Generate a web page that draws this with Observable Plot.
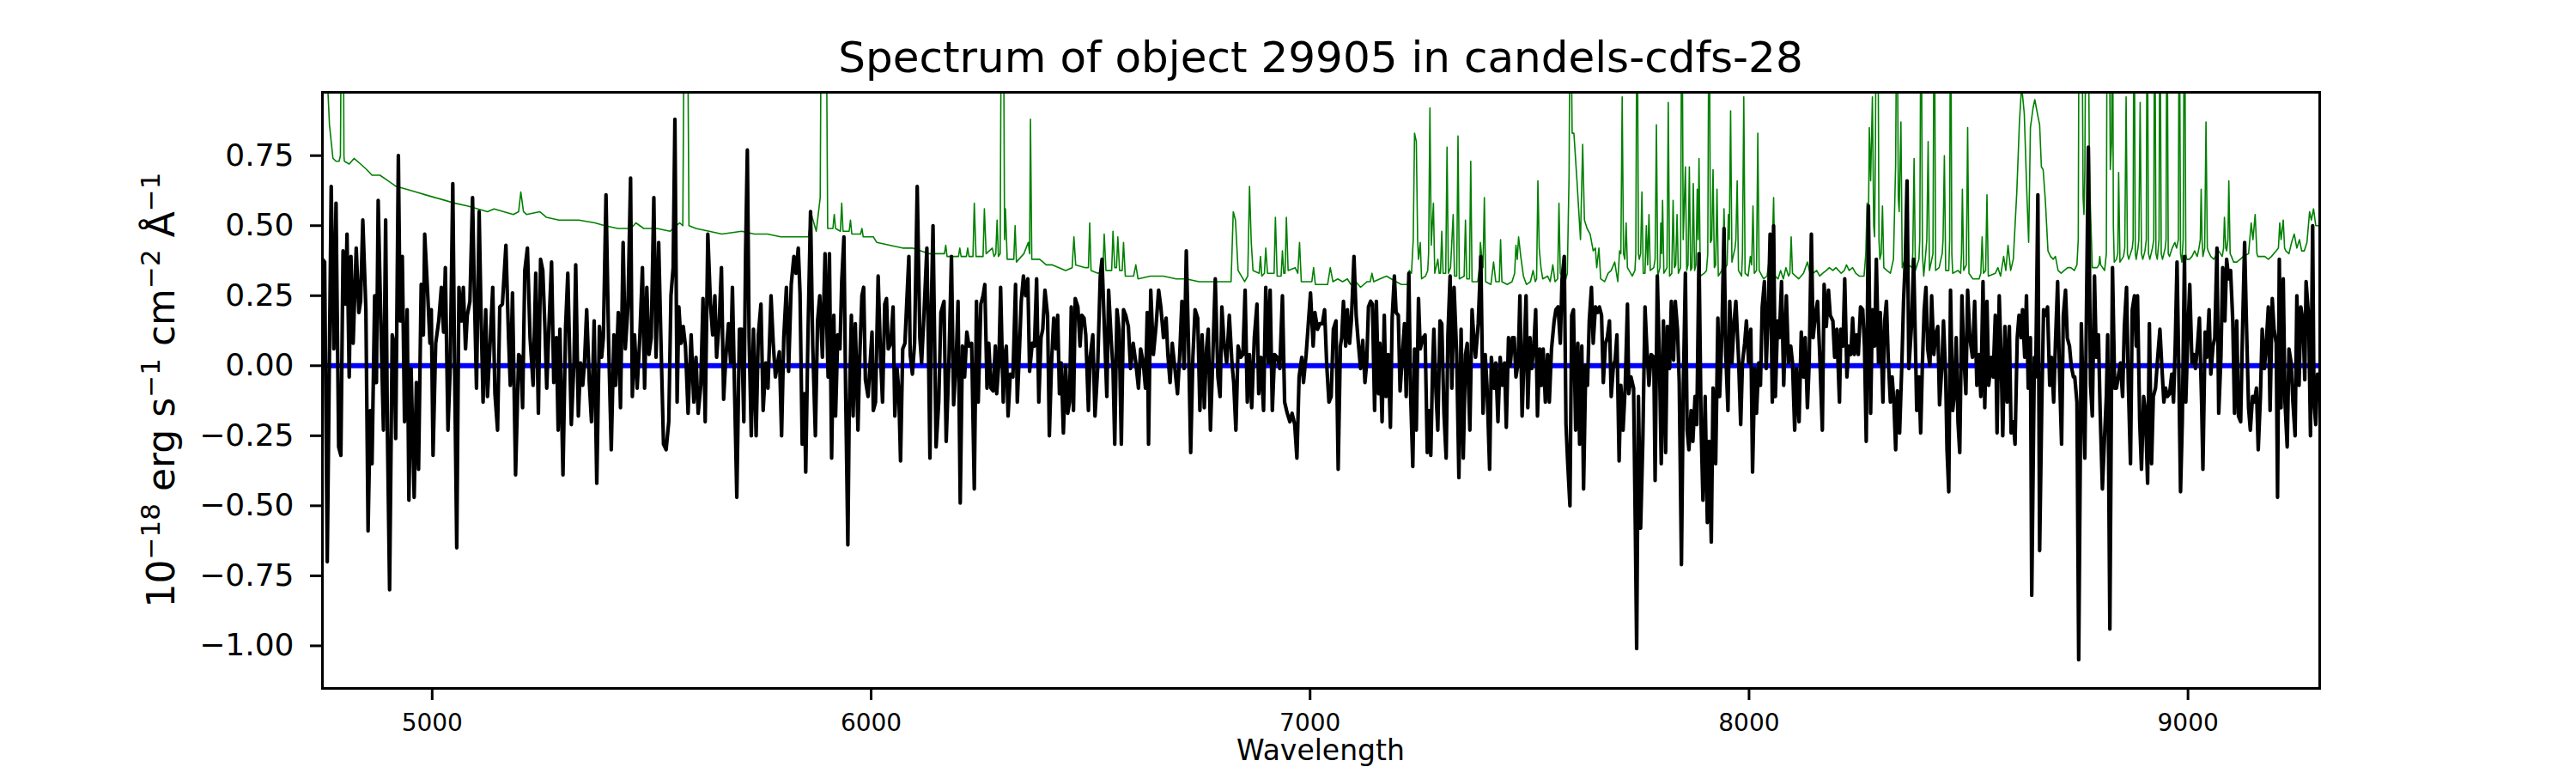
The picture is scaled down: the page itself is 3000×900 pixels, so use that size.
<!DOCTYPE html>
<html>
<head>
<meta charset="utf-8">
<script src="https://cdn.jsdelivr.net/npm/d3@7"></script>
<script src="https://cdn.jsdelivr.net/npm/@observablehq/plot@0.6"></script>
<style>
  html, body { margin: 0; padding: 0; background: #ffffff; }
  #chart svg { display: block; }
  g[aria-label="x-axis tick label"] { font-size: 28px; }
  g[aria-label="y-axis tick label"] { font-size: 36px; }
</style>
</head>
<body>
<div id="chart"></div>
<script>
const titleText = "Spectrum of object 29905 in candels-cdfs-28";
const xLabelText = "Wavelength";
const xTicks = [5000, 6000, 7000, 8000, 9000];
const yTicks = [-1.0, -0.75, -0.5, -0.25, 0.0, 0.25, 0.5, 0.75];
const xDomain = [4750, 9300];
const yDomain = [-1.152, 0.976];

// observed flux (black), [wavelength, flux]
const black1 = [
[4750,0.38],[4755,0.37],[4761,-0.70],[4770,0.64],[4776,0.06],[4781,0.58],[4787,-0.29],[4792,-0.32],[4797,0.41],[4803,0.22],[4806,0.47],[4811,-0.04],[4815,0.39],[4820,0.08],[4827,0.42],[4833,0.19],[4837,0.23],[4842,0.52],[4849,0.20],[4854,-0.59],[4859,-0.16],[4863,-0.35],[4869,0.25],[4873,-0.06],[4877,0.59],[4883,0.16],[4889,-0.23],[4894,0.52],[4898,-0.23],[4903,-0.80],[4909,0.11],[4913,0.08],[4917,-0.26],[4923,0.75],[4927,0.16],[4932,0.39],[4937,-0.20],[4943,0.20],[4947,-0.48],[4952,-0.01],[4959,-0.47],[4964,-0.06],[4969,-0.37],[4975,0.29],[4980,0.11],[4983,0.47],[4990,0.25],[4995,0.08],[4998,0.20],[5002,-0.32],[5008,0.08],[5015,0.16],[5021,0.28],[5026,0.12],[5030,0.35],[5036,-0.23],[5041,-0.01],[5047,0.65],[5051,0.01],[5056,-0.65],[5061,0.28],[5067,0.16],[5071,0.28],[5076,0.06],[5080,0.18],[5086,0.23],[5092,0.60],[5096,0.27],[5101,-0.08],[5107,0.55],[5111,0.21],[5116,-0.13],[5122,0.20],[5126,-0.11],[5132,0.08],[5138,0.28],[5143,-0.10],[5149,-0.23],[5154,0.21],[5160,0.22],[5168,0.43],[5174,0.10],[5178,-0.07],[5183,0.26],[5190,-0.39],[5197,0.04],[5202,0.03],[5206,-0.15],[5211,0.34],[5217,0.42],[5223,0.10],[5230,-0.07],[5236,0.33],[5242,-0.17],[5247,0.38],[5252,0.34],[5257,0.13],[5261,-0.08],[5266,0.14],[5272,0.37],[5277,-0.06],[5283,0.10],[5287,-0.23],[5291,0.13],[5298,-0.39],[5304,0.14],[5309,0.33],[5317,-0.21],[5323,0.01],[5327,0.36],[5333,-0.18],[5338,0.01],[5343,-0.07],[5347,0.01],[5352,0.20],[5358,-0.06],[5363,-0.20],[5369,0.16],[5375,-0.42],[5381,0.14],[5386,0.03],[5390,0.10],[5396,0.61],[5402,0.08],[5408,-0.30],[5414,0.11],[5418,-0.07],[5424,0.19],[5429,-0.15],[5435,0.44],[5440,0.06],[5446,0.21],[5452,0.67],[5456,-0.11],[5461,0.11],[5467,-0.08],[5473,0.10],[5479,0.35],[5484,-0.08],[5489,0.28],[5494,0.04],[5499,0.10],[5505,0.60],[5510,0.03],[5516,0.44],[5521,0.10],[5527,-0.28],[5533,-0.30],[5539,-0.20],[5544,0.25],[5549,0.35],[5553,0.88],[5558,-0.13],[5562,0.21],[5567,0.08],[5572,0.14],[5577,0.07],[5583,-0.17],[5590,0.11],[5596,-0.13],[5601,0.03],[5606,-0.17],[5612,-0.07],[5617,0.24],[5622,-0.20],[5628,0.47],[5634,0.22],[5639,0.11],[5644,0.25],[5648,0.03],[5654,0.16],[5659,0.35],[5664,-0.12],[5669,0.03],[5675,0.15],[5680,0.01],[5684,0.28],[5688,-0.02],[5694,-0.47],[5700,0.13],[5705,0.13],[5710,-0.20],[5714,0.40],[5718,0.77],[5722,0.10],[5727,-0.25],[5732,0.13],[5738,-0.25],[5743,0.11],[5749,0.22],[5754,-0.16],[5760,0.01],[5765,-0.08],[5772,0.25],[5777,0.08],[5782,-0.04],[5786,0.00],[5791,0.05],[5796,-0.25],[5801,0.10],[5807,0.28],[5812,-0.02],[5818,0.29],[5824,0.39],[5829,0.33],[5834,0.42],[5838,0.26],[5843,-0.28],[5848,-0.10],[5851,-0.38],[5856,0.10],[5862,0.55],[5867,0.07],[5873,-0.25],[5878,0.16],[5883,0.25],[5889,0.03],[5895,0.40],[5902,-0.04]
];
const black2 = [
[5905,0.40],[5910,-0.33],[5915,0.18],[5919,-0.18],[5924,0.11],[5929,0.06],[5933,0.30],[5938,0.46],[5942,-0.10],[5947,-0.64],[5950,-0.17],[5955,0.18],[5959,-0.18],[5964,0.15],[5970,-0.23],[5974,0.03],[5979,0.25],[5983,0.28],[5987,-0.05],[5993,-0.11],[5997,-0.01],[6002,0.12],[6005,-0.16],[6010,-0.13],[6016,0.32],[6022,0.01],[6026,-0.13],[6031,0.22],[6035,0.24],[6039,0.06],[6045,0.08],[6050,0.21],[6054,-0.18],[6059,-0.01],[6063,-0.09],[6067,-0.34],[6072,0.06],[6077,0.08],[6081,0.22],[6086,0.39],[6089,0.04],[6094,-0.03],[6099,0.08],[6105,0.64],[6111,0.10],[6115,0.01],[6120,0.17],[6127,0.42],[6131,0.01],[6134,-0.33],[6137,0.20],[6141,0.50],[6148,-0.29],[6154,-0.13],[6159,0.19],[6166,0.23],[6171,-0.27],[6177,0.00],[6183,0.39],[6188,-0.14],[6194,0.03],[6198,0.23],[6203,-0.49],[6208,0.07],[6213,-0.04],[6218,0.12],[6223,0.07],[6229,0.08],[6235,-0.44],[6240,0.23],[6244,-0.13],[6250,0.22],[6255,0.25],[6259,0.29],[6264,-0.08],[6268,0.08],[6273,-0.08],[6278,-0.09],[6283,0.07],[6286,-0.10],[6291,0.01],[6295,0.28],[6301,-0.13],[6304,0.03],[6308,0.07],[6312,-0.18],[6317,-0.03],[6323,-0.04],[6329,0.29],[6333,-0.13],[6338,0.06],[6342,0.23],[6347,0.32],[6352,0.25],[6357,0.31],[6361,-0.02],[6367,0.08],[6372,0.07],[6377,0.31],[6382,-0.13],[6387,0.10],[6391,0.13],[6396,0.27],[6402,0.18],[6406,-0.25],[6411,0.01],[6416,0.17],[6421,0.06],[6425,0.18],[6429,-0.10],[6433,0.01],[6438,-0.24],[6443,0.00],[6448,-0.17],[6452,-0.13],[6456,0.21],[6461,-0.16],[6465,0.24],[6471,0.21],[6476,0.07],[6480,0.18],[6485,0.17],[6489,0.11],[6495,-0.16],[6499,0.03],[6505,0.11],[6510,-0.18],[6516,-0.01],[6522,0.32],[6526,0.38],[6531,0.15],[6537,-0.11],[6541,0.27],[6547,0.09],[6551,-0.01],[6555,-0.28],[6560,0.20],[6565,0.13],[6570,-0.28],[6575,0.20],[6580,0.18],[6586,0.14],[6591,-0.01],[6597,0.08],[6603,0.01],[6609,-0.08],[6614,0.06],[6620,0.01],[6625,-0.08],[6629,0.19],[6632,-0.28],[6637,0.27],[6643,0.04],[6649,0.14],[6655,0.27],[6660,0.21],[6666,0.10],[6672,0.17],[6676,0.04],[6681,-0.06],[6686,0.08],[6692,-0.01],[6698,-0.10],[6703,0.04],[6708,0.23],[6713,-0.01],[6718,0.41],[6724,0.01],[6728,-0.31],[6733,0.03],[6738,0.20],[6744,0.17],[6749,-0.16],[6754,0.11],[6759,-0.15],[6764,0.06],[6768,0.13],[6773,-0.23],[6778,0.01],[6784,0.31],[6790,-0.04],[6795,-0.11],[6799,0.21],[6804,0.08],[6810,0.01],[6816,0.18],[6822,0.01],[6826,-0.06],[6831,-0.23],[6836,0.07],[6842,0.03],[6847,0.04],[6852,0.27],[6857,-0.13],[6862,0.04],[6867,-0.15],[6873,0.10],[6879,0.22],[6883,-0.10],[6888,0.03],[6894,-0.16],[6899,0.28],[6905,0.01],[6909,0.27],[6914,-0.16],[6919,0.04],[6925,0.03],[6931,-0.01],[6937,0.25],[6942,-0.13],[6948,-0.17],[6954,-0.20],[6959,-0.17],[6965,-0.21],[6970,-0.33],[6975,-0.04],[6981,0.03],[6985,-0.06],[6991,0.04],[6996,0.15],[7001,0.26],[7007,0.07],[7011,0.19],[7017,0.13],[7022,0.15],[7028,0.15],[7033,0.20],[7038,0.00],[7043,-0.13],[7048,-0.11],[7053,0.13],[7057,0.15]
];
const black3 = [
[7059,0.16],[7064,-0.37],[7069,0.07],[7072,0.10],[7076,0.23],[7081,0.07],[7085,0.20],[7090,0.08],[7094,0.16],[7100,0.39],[7105,0.18],[7110,0.08],[7115,-0.01],[7120,0.09],[7125,-0.06],[7129,0.01],[7133,0.21],[7138,0.23],[7142,0.22],[7147,-0.16],[7151,0.23],[7156,-0.10],[7159,0.08],[7164,-0.20],[7169,0.18],[7173,-0.11],[7178,0.04],[7183,-0.22],[7187,0.17],[7192,0.32],[7196,0.19],[7201,0.18],[7205,-0.09],[7210,0.03],[7215,0.15],[7219,-0.11],[7225,0.33],[7229,-0.10],[7234,-0.36],[7238,0.06],[7242,-0.23],[7247,0.24],[7251,0.06],[7257,0.10],[7262,0.11],[7267,-0.31],[7271,-0.16],[7275,-0.32],[7279,-0.01],[7282,0.13],[7287,-0.10],[7291,-0.23],[7296,0.16],[7300,0.15],[7305,-0.17],[7310,-0.33],[7314,0.11],[7319,0.32],[7323,-0.08],[7328,0.28],[7334,0.04],[7339,-0.40],[7344,0.13],[7349,-0.33],[7354,0.04],[7358,0.08],[7364,-0.23],[7369,0.20],[7373,0.10],[7377,0.03],[7383,0.15],[7389,0.39],[7394,-0.17],[7399,0.04],[7403,-0.07],[7409,-0.37],[7413,0.03],[7419,-0.08],[7423,0.01],[7428,-0.20],[7433,0.03],[7438,-0.07],[7443,0.01],[7447,-0.22],[7452,0.10],[7456,0.00],[7461,0.10],[7465,0.10],[7469,-0.04],[7474,0.01],[7478,0.25],[7483,-0.18],[7487,0.01],[7492,0.25],[7496,-0.15],[7501,0.10],[7505,-0.01],[7510,0.08],[7514,0.20],[7518,-0.18],[7523,0.06],[7527,-0.07],[7531,0.06],[7536,-0.13],[7541,0.04],[7545,-0.13],[7550,0.06],[7556,0.16],[7560,0.20],[7565,0.21],[7570,0.08],[7574,0.31],[7579,0.39],[7583,-0.21],[7587,-0.35],[7592,-0.50],[7596,0.18],[7600,0.20],[7605,-0.23],[7610,0.08],[7614,-0.28],[7619,0.07],[7623,-0.44],[7628,0.00],[7632,-0.07],[7636,0.16],[7641,0.28],[7645,0.08],[7650,0.21],[7655,0.19],[7659,0.21],[7664,0.18],[7668,-0.06],[7673,0.08],[7677,0.10],[7682,0.16],[7686,-0.11],[7691,0.00],[7695,0.02],[7699,0.11],[7704,-0.34],[7708,-0.07],[7713,-0.23],[7718,-0.07],[7723,0.22],[7726,-0.10],[7731,-0.04],[7737,-0.08],[7741,-0.59],[7744,-1.01],[7748,-0.11],[7753,-0.58],[7758,-0.27],[7763,0.21],[7767,0.07],[7772,-0.07],[7777,0.04],[7783,0.03],[7786,-0.41],[7791,0.32],[7796,0.01],[7800,-0.35],[7805,0.16],[7810,-0.31],[7814,0.14],[7819,-0.01],[7823,0.23],[7828,0.02],[7832,0.23],[7837,0.13],[7841,-0.06],[7846,-0.71],[7850,-0.10],[7855,0.33],[7859,-0.23],[7863,-0.30],[7868,-0.16],[7872,-0.27],[7877,-0.11],[7881,-0.21],[7886,0.40],[7891,-0.23],[7895,-0.48],[7900,-0.11],[7905,-0.56],[7909,-0.27],[7914,-0.63],[7918,-0.08],[7924,-0.35],[7929,0.17],[7933,-0.11],[7938,0.10],[7943,0.49],[7947,0.04],[7952,-0.16],[7956,0.23],[7961,0.01],[7966,0.16],[7970,0.23],[7976,0.03],[7981,-0.21],[7985,0.01],[7990,0.08],[7994,0.16],[7999,0.01],[8004,0.13],[8008,-0.38],[8013,-0.01],[8017,-0.17],[8022,0.01],[8026,-0.07],[8030,0.21],[8035,0.30],[8039,-0.01],[8044,0.21],[8048,0.47],[8053,-0.13],[8056,0.50],[8060,-0.11],[8065,0.16],[8069,0.10],[8074,0.30],[8079,-0.07],[8085,0.25],[8090,0.01],[8095,0.07],[8099,0.01],[8104,-0.23],[8108,-0.01],[8114,-0.20],[8119,0.12],[8124,-0.04],[8128,0.10],[8133,-0.15],[8137,0.01],[8142,0.47],[8146,0.10],[8151,0.18],[8156,0.23],[8161,0.04],[8167,-0.23],[8171,0.29],[8176,0.14],[8181,0.27],[8185,0.18],[8191,0.16],[8195,0.03],[8200,0.13]
];
const black4 = [
[8206,-0.13],[8209,0.13],[8214,0.07],[8218,0.31],[8223,-0.04],[8227,0.07],[8232,0.04],[8236,0.17],[8240,0.04],[8245,0.11],[8249,0.04],[8254,0.21],[8259,0.20],[8263,0.07],[8267,-0.27],[8272,0.57],[8277,-0.17],[8281,0.20],[8286,0.07],[8290,0.38],[8295,0.01],[8299,0.19],[8305,-0.13],[8309,0.16],[8313,0.23],[8317,0.03],[8322,-0.13],[8326,-0.04],[8330,-0.13],[8334,-0.30],[8338,-0.09],[8343,-0.24],[8348,0.00],[8352,0.23],[8356,0.38],[8360,0.66],[8364,-0.01],[8370,0.14],[8375,0.38],[8379,0.08],[8382,-0.16],[8387,-0.04],[8391,-0.24],[8395,0.01],[8399,0.20],[8403,0.28],[8407,0.06],[8412,0.00],[8416,0.25],[8421,0.04],[8425,0.11],[8430,0.14],[8434,-0.14],[8439,-0.01],[8443,0.16],[8448,-0.04],[8451,-0.30],[8455,-0.45],[8459,0.27],[8464,-0.16],[8468,-0.10],[8472,0.10],[8476,-0.20],[8480,-0.31],[8485,0.25],[8489,0.04],[8494,-0.10],[8498,0.27],[8503,0.10],[8509,0.03],[8514,0.23],[8519,-0.07],[8524,0.04],[8528,-0.11],[8533,0.30],[8537,-0.15],[8542,0.23],[8546,-0.07],[8552,0.03],[8556,-0.04],[8561,0.18],[8565,-0.24],[8570,0.25],[8574,0.04],[8578,-0.25],[8583,0.14],[8588,-0.13],[8593,0.14],[8597,-0.24],[8602,-0.20],[8606,-0.28],[8611,0.10],[8615,0.18],[8620,0.10],[8623,0.20],[8628,0.03],[8632,0.25],[8636,-0.08],[8641,0.10],[8644,-0.82],[8650,0.03],[8653,-0.04],[8658,0.61],[8662,-0.66],[8667,-0.13],[8671,0.20],[8676,0.18],[8680,0.21],[8685,-0.07],[8689,0.03],[8694,-0.13],[8698,0.08],[8703,0.30],[8707,-0.01],[8712,-0.28],[8716,0.18],[8721,0.27],[8725,0.10],[8730,0.07],[8734,0.00],[8739,-0.04],[8742,-0.04],[8747,-0.13],[8751,-1.05],[8757,0.15],[8761,-0.11],[8765,-0.33],[8769,0.24],[8773,0.78],[8778,-0.07],[8782,-0.18],[8787,0.32],[8791,0.03],[8796,0.11],[8800,-0.17],[8805,-0.44],[8810,-0.25],[8814,-0.11],[8817,0.11],[8822,-0.94],[8826,-0.01],[8828,0.35],[8833,-0.08],[8837,-0.08],[8842,-0.03],[8846,0.01],[8851,-0.11],[8855,0.14],[8860,0.28],[8864,-0.06],[8869,-0.35],[8873,0.20],[8878,0.25],[8882,0.07],[8885,0.25],[8890,-0.20],[8894,-0.37],[8899,-0.11],[8903,-0.16],[8908,-0.42],[8912,0.15],[8917,-0.35],[8921,-0.11],[8926,-0.08],[8930,0.01],[8936,0.13],[8940,0.01],[8945,-0.13],[8949,-0.08],[8953,-0.11],[8958,-0.10],[8963,-0.03],[8967,-0.13],[8971,0.08],[8975,0.37],[8979,-0.01],[8983,-0.45],[8987,-0.20],[8992,0.39],[8995,-0.13],[9000,0.13],[9004,0.29],[9009,0.01],[9013,0.04],[9017,-0.01],[9022,0.08],[9026,0.17],[9031,-0.13],[9034,-0.37],[9039,0.12],[9043,0.03],[9048,0.20],[9052,-0.03],[9057,0.07],[9061,0.10],[9066,0.42],[9070,-0.17],[9075,0.03],[9079,0.35],[9084,0.16],[9088,0.38],[9093,0.31],[9097,0.34],[9102,0.16],[9106,-0.17],[9111,0.16],[9115,-0.18],[9120,-0.20],[9124,0.11],[9129,0.44],[9133,0.16],[9138,-0.15],[9142,-0.23],[9147,-0.11],[9151,-0.13],[9156,-0.08],[9160,-0.30],[9165,-0.11],[9169,0.13],[9174,-0.01],[9178,0.07],[9183,0.21],[9187,-0.16],[9192,0.24],[9196,0.13],[9201,0.08],[9204,-0.47],[9208,0.38],[9212,-0.15],[9217,0.31],[9221,-0.13],[9226,-0.29],[9230,0.06],[9235,0.01],[9239,-0.13],[9244,-0.25],[9248,0.25],[9253,-0.07],[9257,0.21],[9262,0.16],[9266,-0.05],[9269,0.30],[9275,0.17],[9279,-0.25],[9284,0.50],[9287,-0.13],[9291,-0.21],[9295,-0.03]
];

// error / sky spectrum (green), [wavelength, flux]
const green1 = [
[4750,1.5],[4762,1.0],[4766,0.86],[4774,0.74],[4781,0.73],[4788,0.73],[4791,0.75],[4794,1.5],[4797,1.5],[4799,0.75],[4800,0.73],[4811,0.72],[4822,0.74],[4837,0.72],[4851,0.70],[4863,0.68],[4881,0.68],[4900,0.66],[4918,0.64],[4941,0.63],[4963,0.62],[4985,0.61],[5007,0.60],[5030,0.59],[5052,0.58],[5082,0.57],[5104,0.56],[5126,0.55],[5141,0.56],[5163,0.55],[5185,0.54],[5197,0.55],[5202,0.62],[5208,0.55],[5215,0.54],[5245,0.55],[5260,0.53],[5289,0.52],[5334,0.52],[5371,0.51],[5393,0.50],[5423,0.49],[5453,0.49],[5464,0.51],[5482,0.49],[5512,0.49],[5542,0.48],[5564,0.51],[5571,0.50],[5575,1.5],[5581,1.5],[5585,0.50],[5601,0.49],[5631,0.48],[5660,0.47],[5705,0.48],[5734,0.47],[5764,0.47],[5794,0.46],[5823,0.46],[5857,0.46],[5864,0.54],[5875,0.48],[5884,0.6],[5887,1.5],[5897,1.5]
];
const green2 = [
[5901,0.49],[5913,0.49],[5916,0.54],[5919,0.49],[5930,0.48],[5933,0.58],[5936,0.48],[5950,0.48],[5953,0.52],[5956,0.47],[5976,0.47],[5979,0.49],[5982,0.46],[6005,0.46],[6013,0.44],[6042,0.43],[6072,0.42],[6094,0.42],[6131,0.40],[6154,0.40],[6167,0.40],[6170,0.43],[6173,0.39],[6199,0.39],[6202,0.42],[6205,0.39],[6217,0.39],[6220,0.42],[6223,0.39],[6232,0.39],[6235,0.58],[6239,0.39],[6255,0.39],[6258,0.56],[6262,0.40],[6276,0.42],[6280,0.39],[6284,0.40],[6287,0.52],[6290,0.39],[6294,0.40],[6297,1.5],[6301,1.5],[6304,0.45],[6306,0.56],[6310,0.38],[6325,0.38],[6328,0.50],[6331,0.37],[6348,0.40],[6358,0.44],[6361,0.40],[6363,0.88],[6366,0.38],[6384,0.38],[6399,0.36],[6413,0.36],[6428,0.35],[6443,0.34],[6458,0.35],[6462,0.46],[6466,0.36],[6488,0.35],[6495,0.35],[6498,0.51],[6501,0.34],[6517,0.33],[6528,0.34],[6531,0.47],[6535,0.34],[6548,0.34],[6551,0.48],[6555,0.35],[6559,0.35],[6562,0.46],[6566,0.34],[6572,0.34],[6575,0.44],[6579,0.32],[6598,0.32],[6603,0.36],[6608,0.31],[6636,0.32],[6666,0.32],[6695,0.31],[6718,0.31],[6747,0.30],[6784,0.30],[6820,0.30],[6825,0.55],[6830,0.52],[6836,0.34],[6851,0.30],[6858,0.32],[6862,0.64],[6866,0.44],[6870,0.34],[6884,0.33],[6887,0.39],[6890,0.32],[6896,0.33],[6899,0.42],[6903,0.33],[6918,0.33],[6921,0.53],[6925,0.32],[6934,0.32],[6937,0.41],[6940,0.33],[6943,0.33],[6946,0.53],[6950,0.34],[6966,0.35],[6972,0.33],[6976,0.44],[6980,0.30],[6999,0.30],[7004,0.30],[7008,0.35],[7012,0.29],[7040,0.29],[7046,0.35],[7052,0.30]
];
const green3 = [
[7063,0.31],[7074,0.30],[7085,0.31],[7093,0.29],[7104,0.30],[7115,0.28],[7130,0.30],[7137,0.30],[7141,0.33],[7145,0.30],[7159,0.31],[7174,0.32],[7185,0.31],[7196,0.30],[7208,0.29],[7222,0.29],[7226,0.34],[7231,0.33],[7235,0.45],[7238,0.83],[7242,0.80],[7245,0.45],[7247,0.38],[7251,0.44],[7254,0.31],[7263,0.32],[7268,0.34],[7270,0.40],[7273,0.92],[7276,0.43],[7281,0.58],[7284,0.33],[7291,0.38],[7294,0.33],[7297,0.33],[7300,0.48],[7303,0.33],[7309,0.33],[7312,0.78],[7315,0.33],[7320,0.35],[7326,0.54],[7329,0.32],[7334,0.32],[7337,0.82],[7340,0.31],[7351,0.32],[7354,0.52],[7357,0.31],[7363,0.31],[7366,0.73],[7369,0.30],[7382,0.30],[7386,0.35],[7388,0.44],[7391,0.39],[7394,0.35],[7397,0.60],[7400,0.30],[7412,0.29],[7418,0.37],[7423,0.30],[7431,0.30],[7434,0.45],[7437,0.30],[7449,0.29],[7460,0.30],[7466,0.33],[7469,0.43],[7472,0.38],[7475,0.46],[7480,0.39],[7486,0.32],[7493,0.29],[7502,0.30],[7508,0.34],[7513,0.30],[7516,0.31],[7519,0.66],[7522,0.42],[7526,0.35],[7530,0.31],[7541,0.32],[7547,0.30],[7553,0.36],[7558,0.30],[7564,0.31],[7567,0.58],[7570,0.33],[7581,0.30],[7586,0.33],[7590,0.68],[7593,1.5],[7596,1.0],[7597,0.83],[7601,0.83],[7608,0.66],[7616,0.45],[7621,0.79],[7625,0.52],[7631,0.49],[7638,0.47],[7645,0.41],[7650,0.42],[7653,0.35],[7658,0.42],[7662,0.31],[7671,0.30],[7679,0.33],[7686,0.34],[7694,0.37],[7697,0.34],[7701,0.30],[7705,0.41],[7708,0.40],[7711,0.96],[7714,0.40],[7717,0.38],[7720,0.51],[7723,0.35],[7734,0.32],[7740,0.34],[7742,0.40],[7745,1.5],[7748,0.40],[7750,0.38],[7753,0.40],[7756,0.62],[7759,0.33],[7763,0.33],[7766,0.50],[7769,0.36],[7772,0.54],[7775,0.34],[7783,0.35],[7786,0.38],[7789,0.86],[7792,0.32],[7797,0.35],[7799,0.51],[7801,0.40],[7803,0.59],[7806,0.33],[7813,0.35],[7816,0.94],[7819,0.32],[7824,0.33],[7827,0.59],[7830,0.35],[7833,0.36],[7836,0.54],[7839,0.33],[7844,0.35],[7847,1.5],[7850,0.45],[7852,0.55],[7855,0.71],[7858,0.34],[7861,0.36],[7864,0.71],[7867,0.34],[7870,0.35],[7873,0.65],[7876,0.34],[7879,0.36],[7882,0.63],[7884,0.45],[7886,0.74],[7889,0.32],[7898,0.33],[7903,0.34],[7906,0.40],[7909,1.5],[7912,0.44],[7915,0.45],[7918,0.70],[7921,0.35],[7924,0.36],[7927,0.63],[7930,0.32],[7938,0.34],[7940,0.36],[7943,0.56],[7946,0.35],[7950,0.36],[7953,0.54],[7955,0.45],[7958,0.91],[7961,0.37],[7968,0.42],[7970,0.45],[7973,0.66],[7976,0.34],[7983,0.32],[7985,0.40],[7988,0.96],[7991,0.33],[7998,0.32],[8003,0.39],[8006,0.36],[8009,0.57],[8012,0.33],[8017,0.34],[8020,0.83],[8023,0.34],[8033,0.31],[8041,0.32],[8046,0.38],[8051,0.40],[8053,0.42],[8056,0.60],[8059,0.32],[8066,0.31],[8072,0.34],[8078,0.31],[8084,0.35],[8090,0.32],[8093,0.33],[8096,0.46],[8099,0.33],[8113,0.31],[8124,0.33],[8133,0.37],[8139,0.33],[8146,0.33],[8154,0.34],[8161,0.32],[8168,0.33],[8176,0.34],[8183,0.35],[8191,0.34],[8198,0.35]
];
const green4 = [
[8210,0.33],[8217,0.34],[8222,0.36],[8228,0.34],[8236,0.35],[8243,0.33],[8251,0.32],[8262,0.32],[8266,0.40],[8269,0.58],[8272,0.50],[8274,0.85],[8277,0.66],[8281,0.96],[8284,0.50],[8286,0.46],[8288,0.80],[8290,1.5],[8293,1.5],[8296,0.45],[8298,0.38],[8301,0.40],[8304,0.57],[8307,0.35],[8314,0.34],[8322,0.33],[8329,0.38],[8334,0.72],[8337,1.5],[8340,0.60],[8342,0.55],[8346,0.87],[8349,0.35],[8355,0.38],[8358,0.40],[8361,0.51],[8364,0.36],[8371,0.35],[8373,0.40],[8376,0.74],[8379,0.34],[8387,0.38],[8389,0.45],[8392,1.5],[8395,0.40],[8398,0.32],[8403,0.41],[8405,0.45],[8408,0.80],[8411,0.34],[8419,0.40],[8422,1.5],[8425,0.34],[8433,0.35],[8440,0.40],[8442,0.45],[8445,0.75],[8448,0.34],[8455,0.34],[8457,0.45],[8459,1.5],[8462,0.40],[8464,0.33],[8476,0.34],[8482,0.33],[8484,0.40],[8486,0.63],[8489,0.34],[8495,0.36],[8498,0.85],[8501,0.33],[8510,0.31],[8524,0.31],[8528,0.33],[8531,0.46],[8534,0.33],[8539,0.34],[8542,0.61],[8545,0.32],[8561,0.33],[8567,0.35],[8573,0.32],[8580,0.39],[8585,0.34],[8590,0.43],[8596,0.34],[8602,0.38],[8610,0.62],[8616,0.87],[8621,1.0],[8627,0.90],[8633,0.61],[8637,0.44],[8641,0.85],[8647,0.92],[8651,0.95],[8657,0.90],[8662,0.86],[8666,0.71],[8670,0.70],[8675,0.59],[8681,0.41],[8687,0.39],[8693,0.38],[8698,0.39],[8704,0.34],[8711,0.33],[8718,0.34],[8726,0.35],[8733,0.35],[8741,0.34],[8747,0.36],[8750,0.45],[8752,1.5],[8758,1.5],[8761,0.60],[8763,0.54],[8765,0.70],[8768,1.5],[8772,1.5],[8775,0.79],[8777,0.60],[8782,0.35],[8793,0.35],[8797,0.36],[8799,0.39],[8801,0.36],[8810,0.34],[8814,0.40],[8816,1.5],[8820,1.5],[8823,0.70],[8826,0.80],[8828,1.5],[8830,0.50],[8832,0.37],[8837,0.38],[8840,0.40],[8842,0.69],[8845,0.37],[8853,0.39],[8856,0.42],[8859,0.96],[8862,0.40],[8865,0.38],[8873,0.42],[8875,0.45],[8877,1.5],[8880,0.40],[8882,0.38],[8886,0.42],[8888,0.45],[8891,0.94],[8894,0.40],[8897,0.38],[8902,0.41],[8905,0.45],[8907,1.5],[8910,0.40],[8913,0.38],[8919,0.42],[8922,0.45],[8924,1.5],[8927,0.40],[8930,0.38],[8934,0.45],[8936,1.5],[8939,0.40],[8942,0.38],[8948,0.42],[8950,0.45],[8952,1.5],[8955,0.40],[8958,0.39],[8964,0.42],[8970,0.44],[8974,0.42],[8978,0.45],[8980,1.5],[8983,0.40],[8986,0.37],[8989,0.45],[8992,1.5],[8995,0.40],[8997,0.38],[9003,0.38],[9009,0.39],[9015,0.41],[9021,0.39],[9025,0.42],[9028,0.45],[9030,0.63],[9032,0.45],[9034,0.39],[9038,0.42],[9041,0.87],[9044,0.42],[9046,0.41],[9052,0.39],[9059,0.38],[9070,0.41],[9078,0.39],[9081,0.42],[9083,0.53],[9086,0.42],[9088,0.41],[9091,0.45],[9093,0.66],[9096,0.40],[9099,0.39],[9104,0.37],[9111,0.37],[9119,0.38],[9126,0.39],[9138,0.40],[9144,0.51],[9148,0.45],[9153,0.54],[9157,0.40],[9159,0.39],[9168,0.39],[9175,0.39],[9183,0.38],[9190,0.39],[9201,0.41],[9206,0.42],[9209,0.51],[9212,0.45],[9217,0.52],[9220,0.42],[9223,0.41],[9230,0.40],[9236,0.44],[9242,0.47],[9248,0.42],[9254,0.45],[9259,0.41],[9265,0.41],[9271,0.44],[9277,0.55],[9281,0.52],[9286,0.56],[9291,0.50],[9296,0.50],[9300,0.50]
];

// zero reference (blue)
const zeroLine = [[4750, 0], [9300, 0]];

const toRows = (arr) => arr.map(([w, f]) => ({w, f}));
const black = toRows([...black1, ...black2, ...black3, ...black4]);
const green = toRows([...green1, ...green2, ...green3, ...green4]);
const zero = toRows(zeroLine);

const chart = Plot.plot({
  width: 3000,
  height: 900,
  marginLeft: 375,
  marginRight: 299,
  marginTop: 107,
  marginBottom: 99,
  style: {fontFamily: "DejaVu Sans", background: "#ffffff", color: "#000000", overflow: "visible"},
  x: {domain: xDomain, label: null},
  y: {domain: yDomain, label: null},
  marks: [
    Plot.line(green, {x: "w", y: "f", stroke: "#008000", strokeWidth: 1.6, clip: true}),
    Plot.line(zero, {x: "w", y: "f", stroke: "#0000ff", strokeWidth: 6, strokeLinecap: "butt"}),
    Plot.line(black, {x: "w", y: "f", stroke: "#000000", strokeWidth: 4.2, clip: true}),
    Plot.frame({stroke: "#000000", strokeWidth: 3}),
    Plot.axisX({ticks: xTicks, tickSize: 14, tickPadding: 16, fontSize: 28, strokeWidth: 3, tickFormat: d3.format("d"), label: null}),
    Plot.axisY({ticks: yTicks, tickSize: 14, tickPadding: 19, fontSize: 36, strokeWidth: 3, tickFormat: d3.format(".2f"), label: null})
  ]
});

const svg = d3.select(chart);
const cx = 375 + (3000 - 375 - 299) / 2;

svg.append("text")
  .attr("x", cx).attr("y", 84)
  .attr("text-anchor", "middle")
  .attr("font-family", "DejaVu Sans")
  .attr("font-size", 50)
  .attr("fill", "#000000")
  .text(titleText);

svg.append("text")
  .attr("x", cx).attr("y", 885)
  .attr("text-anchor", "middle")
  .attr("font-family", "DejaVu Sans")
  .attr("font-size", 33)
  .attr("fill", "#000000")
  .text(xLabelText);

const yLabelParts = [["10", false], ["−18", true], [" erg s", false], ["−1", true], [" cm", false], ["−2", true], [" Å", false], ["−1", true]];
const yl = svg.append("text")
  .attr("transform", `translate(203, ${(107 + 801) / 2}) rotate(-90)`)
  .attr("text-anchor", "middle")
  .attr("font-family", "DejaVu Sans")
  .attr("font-size", 44)
  .attr("fill", "#000000");
yLabelParts.forEach(([t, sup]) => {
  yl.append("tspan")
    .attr("dy", sup ? -17 : 17)
    .attr("font-size", sup ? 31 : 44)
    .text(t);
});
yl.select("tspan").attr("dy", 0);

document.getElementById("chart").appendChild(chart);
</script>
</body>
</html>
